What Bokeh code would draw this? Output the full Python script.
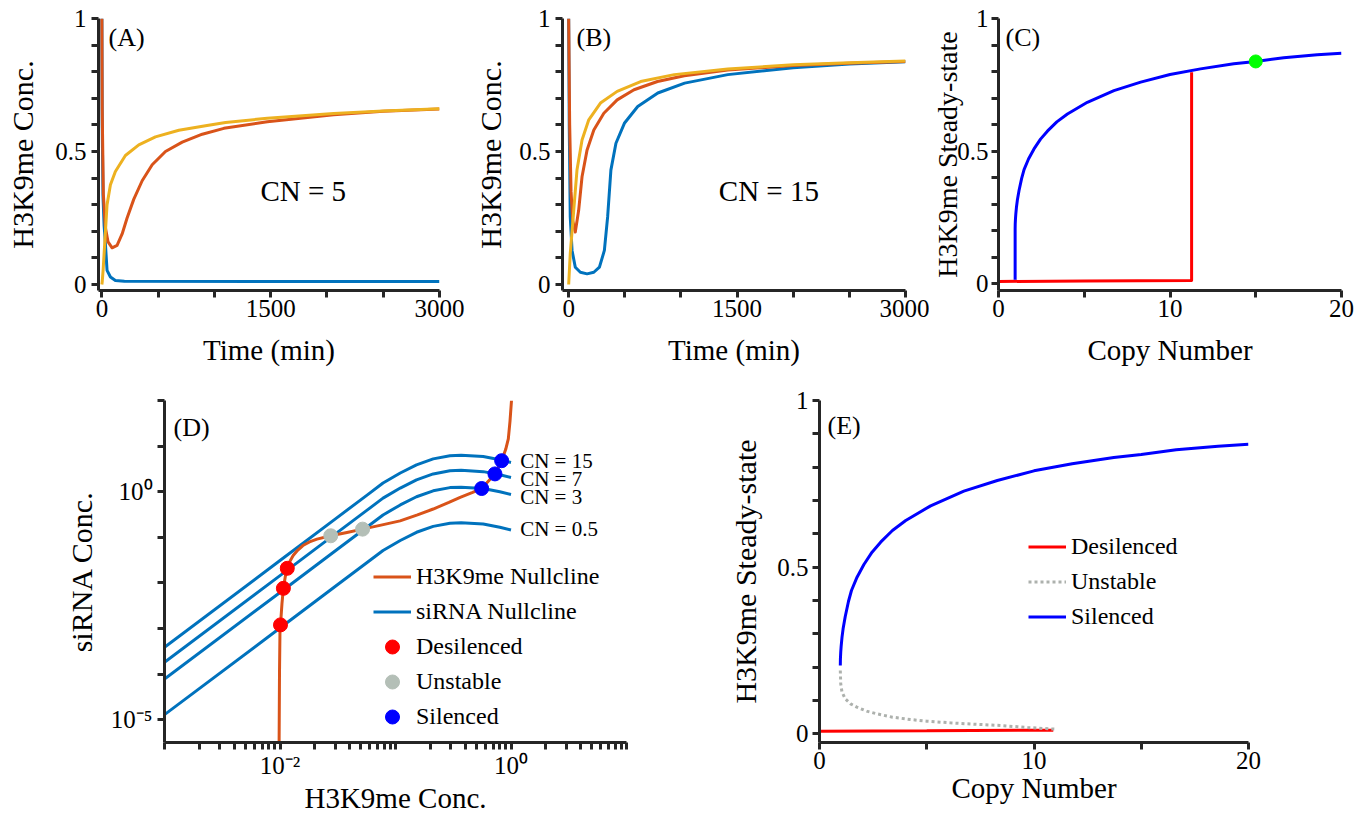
import math
from bokeh.plotting import figure
from bokeh.layouts import column, row
from bokeh.models import (FixedTicker, CustomJSTickFormatter, Label, Legend,
                          LegendItem, Range1d)
from bokeh.embed import file_html
from bokeh.resources import INLINE

FONT = "Liberation Serif"
AXC = "#262626"
BLUE = "#0072BD"
ORANGE = "#D95319"
YELLOW = "#EDB120"

# ---------------- Panel A (CN = 5) ----------------
a_blue_t = [0, 3, 10, 20, 31, 46, 76, 120, 200, 3000]
a_blue_y = [1.0, 0.6, 0.33, 0.22, 0.156, 0.053, 0.028, 0.015, 0.012, 0.011]
a_orange_t = [0, 3, 13, 31, 55, 91, 135, 180, 224, 283, 358, 447, 565, 714, 892, 1084, 1470, 2060, 2500, 3000]
a_orange_y = [1.0, 0.66, 0.34, 0.215, 0.16, 0.138, 0.147, 0.19, 0.25, 0.32, 0.39, 0.45, 0.50, 0.535, 0.565, 0.587, 0.612, 0.638, 0.651, 0.66]
a_yellow_t = [0, 3, 12, 25, 46, 76, 120, 209, 328, 476, 684, 921, 1099, 1470, 2060, 2500, 3000]
a_yellow_y = [0.0, 0.01, 0.06, 0.153, 0.30, 0.375, 0.425, 0.485, 0.525, 0.555, 0.58, 0.597, 0.609, 0.625, 0.643, 0.652, 0.661]

# ---------------- Panel B (CN = 15) ----------------
b_blue_t = [0, 5, 14, 30, 59, 104, 164, 224, 274, 318, 347, 376, 421, 496, 615, 794, 1033, 1417, 2000, 2500, 3000]
b_blue_y = [1.0, 0.6, 0.254, 0.128, 0.065, 0.046, 0.04, 0.046, 0.065, 0.128, 0.254, 0.43, 0.531, 0.606, 0.669, 0.72, 0.757, 0.789, 0.815, 0.829, 0.837]
b_orange_t = [0, 9, 21, 36, 59, 89, 119, 164, 224, 313, 432, 582, 791, 1030, 1417, 2000, 2500, 3000]
b_orange_y = [1.0, 0.6, 0.35, 0.24, 0.197, 0.279, 0.405, 0.506, 0.581, 0.644, 0.694, 0.732, 0.763, 0.785, 0.806, 0.823, 0.832, 0.838]
b_yellow_t = [0, 14, 45, 74, 119, 179, 283, 432, 641, 940, 1417, 2000, 2500, 3000]
b_yellow_y = [0.0, 0.116, 0.279, 0.43, 0.543, 0.619, 0.682, 0.726, 0.763, 0.789, 0.81, 0.826, 0.834, 0.84]

# ---------------- Steady states vs copy number (C, E) ----------------
silenced_cn = [0.97, 0.975, 0.99, 1.01, 1.05, 1.1, 1.2, 1.35, 1.49, 1.75, 2.07, 2.45, 2.85, 3.4,
               4.02, 5.18, 6.73, 8.29, 10.0, 11.78, 13.72, 15.0, 16.63, 18.58, 20.0]
silenced_h = [0.205, 0.225, 0.245, 0.263, 0.29, 0.315, 0.352, 0.397, 0.43, 0.47, 0.508, 0.545, 0.575, 0.61,
              0.64, 0.684, 0.728, 0.76, 0.789, 0.81, 0.829, 0.838, 0.852, 0.863, 0.869]
c_jump_cn = [0.97]
c_jump_h = [0.015]
c_desil_cn = [0, 5, 11.26, 11.26]
c_desil_h = [0.008, 0.01, 0.012, 0.797]
c_marker_cn = [15]
c_marker_h = [0.838]
e_desil_cn = [0, 5, 10.9]
e_desil_h = [0.008, 0.009, 0.011]
unstable_cn = [0.97, 0.99, 1.05, 1.2, 1.45, 1.74, 2.2, 2.68, 3.4, 4.23, 5.0, 6.09, 7.2, 8.42, 9.7, 11.0]
unstable_h = [0.19, 0.15, 0.125, 0.105, 0.09, 0.08, 0.068, 0.06, 0.05, 0.043, 0.038, 0.033, 0.029, 0.025, 0.019, 0.014]

# ---------------- Panel D (nullclines, log-log) ----------------
sirna_x = [0.001, 0.01, 0.03, 0.056, 0.078, 0.11, 0.152, 0.212, 0.296, 0.37, 0.575, 0.80, 1.0]
sirna_cn15 = [3.89e-4, 0.0309, 0.251, 0.822, 1.549, 2.570, 3.890, 5.248, 6.166, 6.310, 5.888, 5.012, 4.365]
sirna_cn7 = [1.82e-4, 0.01445, 0.1175, 0.3846, 0.7244, 1.202, 1.820, 2.455, 2.884, 2.951, 2.754, 2.344, 2.042]
sirna_cn3 = [7.76e-5, 6.17e-3, 0.0501, 0.1641, 0.3090, 0.5129, 0.7762, 1.047, 1.230, 1.259, 1.175, 1.000, 0.871]
sirna_cn05 = [1.29e-5, 1.023e-3, 8.32e-3, 0.02723, 0.0513, 0.0851, 0.1288, 0.1738, 0.2042, 0.2089, 0.1950, 0.1660, 0.1445]
cn_names = ["CN = 15", "CN = 7", "CN = 3", "CN = 0.5"]
cn_label_x = [1.2, 1.2, 1.2, 1.2]
cn_label_y = [4.8, 1.9, 0.75, 0.152]

h3_x = [0.0098, 0.0099, 0.0100, 0.0101, 0.0104, 0.0107, 0.0111, 0.01156, 0.0122, 0.0130, 0.0142,
        0.0158, 0.0180, 0.0209, 0.0275, 0.038, 0.0519, 0.075, 0.1096, 0.155, 0.212, 0.29, 0.363,
        0.46, 0.557, 0.726, 0.83, 0.90, 0.948, 0.98, 1.01]
h3_y = [1e-6, 1e-4, 9.8e-4, 1.2e-3, 3.5e-3, 7.6e-3, 0.0135, 0.0209, 0.030, 0.0398, 0.052,
        0.066, 0.079, 0.0912, 0.108, 0.128, 0.151, 0.185, 0.229, 0.31, 0.417, 0.58, 0.75,
        0.95, 1.175, 2.455, 4.786, 8.5, 14.45, 35.0, 100.0]
desil_x = [0.0101, 0.0107, 0.01156]
desil_y = [1.2e-3, 7.6e-3, 0.0209]
unst_x = [0.0275, 0.0519]
unst_y = [0.108, 0.151]
sil_x = [0.557, 0.726, 0.83]
sil_y = [1.175, 2.455, 4.786]

PLAIN = CustomJSTickFormatter(code="return tick.toString();")


def style(p, xlab, ylab, ylab_standoff=12, x_lab_standoff=14, x_tick_standoff=2, y_tick_standoff=5,
          ylab_size="30px"):
    p.outline_line_color = None
    p.xgrid.visible = False
    p.ygrid.visible = False
    p.background_fill_color = "white"
    p.border_fill_color = "white"
    for ax in p.axis:
        ax.axis_line_width = 3
        ax.axis_line_color = AXC
        ax.major_tick_line_width = 3
        ax.minor_tick_line_width = 3
        ax.major_tick_line_color = AXC
        ax.minor_tick_line_color = AXC
        ax.major_tick_out = 7
        ax.major_tick_in = 0
        ax.minor_tick_out = 7
        ax.minor_tick_in = 0
        ax.major_label_text_font = FONT
        ax.major_label_text_font_size = "25px"
        ax.major_label_text_color = "black"
        ax.axis_label_text_font = FONT
        ax.axis_label_text_font_style = "normal"
        ax.axis_label_text_color = "black"
    p.xaxis.axis_label = xlab
    p.xaxis.axis_label_text_font_size = "29px"
    p.xaxis.major_label_standoff = x_tick_standoff
    p.xaxis.axis_label_standoff = x_lab_standoff
    p.yaxis.axis_label = ylab
    p.yaxis.axis_label_text_font_size = ylab_size
    p.yaxis.major_label_standoff = y_tick_standoff
    p.yaxis.axis_label_standoff = ylab_standoff


def tag(p, text, x, y):
    p.add_layout(Label(x=x, y=y, x_units="screen", y_units="screen", text=text,
                       text_font=FONT, text_font_size="26px", text_color="black",
                       text_baseline="alphabetic", text_align="left"))


def lin_ticks(p, xt, xm, yt, ym):
    p.xaxis.ticker = FixedTicker(ticks=xt, minor_ticks=xm)
    p.yaxis.ticker = FixedTicker(ticks=yt, minor_ticks=ym)
    p.xaxis.formatter = PLAIN
    p.yaxis.formatter = PLAIN


Y_MAJ = [0, 0.5, 1]
Y_MIN = [0.1, 0.2, 0.3, 0.4, 0.6, 0.7, 0.8, 0.9]
TOP_H = 380
BOT_H = 438

# ---------- A ----------
pA = figure(width=470, height=TOP_H, x_range=Range1d(-30, 3000), y_range=Range1d(-0.0226, 1.0),
            output_backend="svg", toolbar_location=None,
            min_border_left=98, min_border_right=31, min_border_top=18, min_border_bottom=90)
style(pA, "Time (min)", "H3K9me Conc.", ylab_standoff=13)
lin_ticks(pA, [0, 1500, 3000], [500, 1000, 2000, 2500], Y_MAJ, Y_MIN)
pA.line(a_blue_t, a_blue_y, line_color=BLUE, line_width=3, line_join="round")
pA.line(a_orange_t, a_orange_y, line_color=ORANGE, line_width=3, line_join="round")
pA.line(a_yellow_t, a_yellow_y, line_color=YELLOW, line_width=3, line_join="round")
tag(pA, "(A)", 10, 253)
pA.add_layout(Label(x=1409, y=0.353, text="CN = 5", text_font=FONT, text_font_size="29px",
                    text_baseline="alphabetic", text_align="left", text_color="black"))

# ---------- B ----------
pB = figure(width=459, height=TOP_H, x_range=Range1d(-55, 3000), y_range=Range1d(-0.0226, 1.0),
            output_backend="svg", toolbar_location=None,
            min_border_left=92, min_border_right=24, min_border_top=18, min_border_bottom=90)
style(pB, "Time (min)", "H3K9me Conc.", ylab_standoff=9)
lin_ticks(pB, [0, 1500, 3000], [500, 1000, 2000, 2500], Y_MAJ, Y_MIN)
pB.line(b_blue_t, b_blue_y, line_color=BLUE, line_width=3, line_join="round")
pB.line(b_orange_t, b_orange_y, line_color=ORANGE, line_width=3, line_join="round")
pB.line(b_yellow_t, b_yellow_y, line_color=YELLOW, line_width=3, line_join="round")
tag(pB, "(B)", 14, 253)
pB.add_layout(Label(x=1337, y=0.353, text="CN = 15", text_font=FONT, text_font_size="29px",
                    text_baseline="alphabetic", text_align="left", text_color="black"))

# ---------- C ----------
pC = figure(width=439, height=TOP_H, x_range=Range1d(0, 20), y_range=Range1d(-0.026, 1.0),
            output_backend="svg", toolbar_location=None,
            min_border_left=69, min_border_right=27, min_border_top=18, min_border_bottom=90)
style(pC, "Copy Number", "H3K9me Steady-state", ylab_standoff=-9, y_tick_standoff=3, ylab_size="28px")
lin_ticks(pC, [0, 10, 20], [5, 15], Y_MAJ, Y_MIN)
pC.line(c_desil_cn, c_desil_h, line_color="#FF0000", line_width=3, line_join="round")
pC.line(c_jump_cn + silenced_cn, c_jump_h + silenced_h, line_color="#0000FF", line_width=3, line_join="round")
pC.scatter(c_marker_cn, c_marker_h, size=13, fill_color="#00FF00", line_color="#00FF00")
tag(pC, "(C)", 7, 253)

# ---------- D ----------
pD = figure(width=700, height=BOT_H, x_axis_type="log", y_axis_type="log",
            x_range=Range1d(1e-3, 10), y_range=Range1d(10 ** -5.5, 100),
            output_backend="svg", toolbar_location=None,
            min_border_left=164, min_border_right=74, min_border_top=20, min_border_bottom=76)
style(pD, "H3K9me Conc.", "siRNA Conc.", ylab_standoff=10, x_lab_standoff=0, x_tick_standoff=2)
x_minor = []
for dec in [1e-3, 1e-2, 1e-1, 1.0]:
    for k in range(1, 10):
        v = k * dec
        if abs(v - 0.01) > 1e-12 and abs(v - 1.0) > 1e-12:
            x_minor.append(v)
x_minor.append(10.0)
pD.xaxis.ticker = FixedTicker(ticks=[0.01, 1.0], minor_ticks=x_minor)
pD.yaxis.ticker = FixedTicker(ticks=[1e-5, 1.0], minor_ticks=[1e-4, 1e-3, 1e-2, 1e-1, 10.0, 100.0])
pD.xaxis.formatter = CustomJSTickFormatter(code="""
const l = Math.log10(tick);
if (Math.abs(l + 2) < 1e-6) return '10\\u207B\\u00B2';
if (Math.abs(l) < 1e-6) return '10\\u2070';
return '';
""")
pD.yaxis.formatter = CustomJSTickFormatter(code="""
const l = Math.log10(tick);
if (Math.abs(l + 5) < 1e-6) return '10\\u207B\\u2075';
if (Math.abs(l) < 1e-6) return '10\\u2070';
return '';
""")
r15 = pD.line(sirna_x, sirna_cn15, line_color=BLUE, line_width=3, line_join="round")
pD.line(sirna_x, sirna_cn7, line_color=BLUE, line_width=3, line_join="round")
pD.line(sirna_x, sirna_cn3, line_color=BLUE, line_width=3, line_join="round")
pD.line(sirna_x, sirna_cn05, line_color=BLUE, line_width=3, line_join="round")
rh3 = pD.line(h3_x, h3_y, line_color=ORANGE, line_width=3, line_join="round")
rdes = pD.scatter(desil_x, desil_y, size=14, fill_color="#FF0000", line_color="#FF0000")
runs = pD.scatter(unst_x, unst_y, size=14, fill_color="#B4BFB7", line_color="#B4BFB7")
rsil = pD.scatter(sil_x, sil_y, size=14, fill_color="#0000FF", line_color="#0000FF")
for name, lx, ly in zip(cn_names, cn_label_x, cn_label_y):
    pD.add_layout(Label(x=lx, y=ly, text=name, text_font=FONT, text_font_size="21px",
                        text_baseline="middle", text_align="left", text_color="black"))
tag(pD, "(D)", 9, 315)
legD = Legend(items=[LegendItem(label="H3K9me Nullcline", renderers=[rh3]),
                     LegendItem(label="siRNA Nullcline", renderers=[r15]),
                     LegendItem(label="Desilenced", renderers=[rdes]),
                     LegendItem(label="Unstable", renderers=[runs]),
                     LegendItem(label="Silenced", renderers=[rsil])],
              location=(209, 8))
pD.add_layout(legD)

# ---------- E ----------
pE = figure(width=668, height=BOT_H, x_range=Range1d(0, 20), y_range=Range1d(-0.026, 1.0),
            output_backend="svg", toolbar_location=None,
            min_border_left=119, min_border_right=120, min_border_top=20, min_border_bottom=76)
style(pE, "Copy Number", "H3K9me Steady-state", ylab_standoff=12, x_lab_standoff=0, x_tick_standoff=2,
      y_tick_standoff=4)
lin_ticks(pE, [0, 10, 20], [5, 15], Y_MAJ, Y_MIN)
rE_red = pE.line(e_desil_cn, e_desil_h, line_color="#FF0000", line_width=3)
rE_un = pE.line(unstable_cn, unstable_h, line_color="#ADB1AD", line_width=3, line_dash="3 3")
rE_bl = pE.line(silenced_cn, silenced_h, line_color="#0000FF", line_width=3, line_join="round")
tag(pE, "(E)", 8, 317)
legE = Legend(items=[LegendItem(label="Desilenced", renderers=[rE_red]),
                     LegendItem(label="Unstable", renderers=[rE_un]),
                     LegendItem(label="Silenced", renderers=[rE_bl])],
              location=(209, 108))
pE.add_layout(legE)

for lg in (legD, legE):
    lg.padding = 0
    lg.margin = 0
    lg.spacing = 0
    lg.glyph_width = 38
    lg.glyph_height = 35
    lg.label_height = 35
    lg.label_standoff = 5
    lg.label_text_font = FONT
    lg.label_text_font_size = "24px"
    lg.label_text_color = "black"
    lg.border_line_color = None
    lg.background_fill_alpha = 0

layout = column(row(pA, pB, pC), row(pD, pE))
open("out.html", "w").write(file_html(layout, INLINE))
